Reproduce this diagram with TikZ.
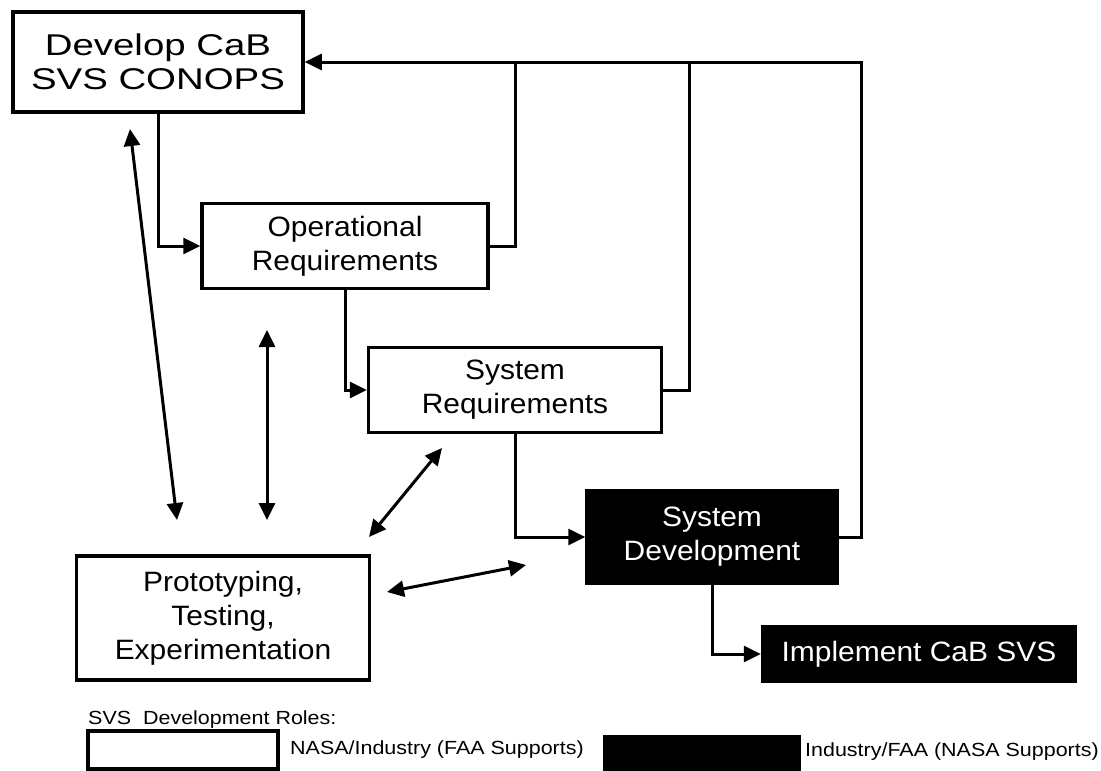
\documentclass[tikz,border=0pt]{standalone}
\usepackage{fontspec}
\setmainfont{Liberation Sans}
\newfontfamily\bigf[FakeStretch=1.28]{Liberation Sans}
\newfontfamily\midf[FakeStretch=1.07]{Liberation Sans}
\newfontfamily\smallf[FakeStretch=1.13]{Liberation Sans}
\usetikzlibrary{arrows.meta}
\begin{document}
\begin{tikzpicture}[x=1pt,y=-1pt,
  box/.style={draw=black, line width=3.5pt, inner sep=0pt, align=center,
    font=\midf\fontsize{28}{34}\selectfont},
  wbox/.style={box, fill=white},
  bbox/.style={box, fill=black, text=white},
  conn/.style={line width=3pt},
  arr/.style={conn, -{Triangle[length=17pt,width=16pt]}},
  darr/.style={conn, {Triangle[length=17pt,width=16pt]}-{Triangle[length=17pt,width=16pt]}},
  legtext/.style={font=\smallf\fontsize{19}{23}\selectfont, anchor=west, inner sep=0pt}]
\useasboundingbox (0,0) rectangle (1101,771);

% main boxes
\node[wbox, minimum width=290pt, minimum height=100pt,
      font=\bigf\fontsize{30}{34}\selectfont] (dev) at (158,62) {Develop CaB\\SVS CONOPS};
\node[wbox, minimum width=286pt, minimum height=85pt] (op) at (345,246) {Operational\\Requirements};
\node[wbox, minimum width=293pt, minimum height=85pt] (sysreq) at (515,390) {System\\Requirements};
\node[bbox, minimum width=250pt, minimum height=92pt] (sysdev) at (712,537) {System\\Development};
\node[bbox, minimum width=313pt, minimum height=54pt] (impl) at (919,654) {Implement CaB SVS};
\node[wbox, minimum width=293pt, minimum height=124pt] (proto) at (223,618) {Prototyping,\\Testing,\\Experimentation};

% legend
\node[legtext] (roles) at (88,720) {SVS\ \ Development Roles:};
\node[wbox, minimum width=190pt, minimum height=38pt] (legw) at (183,750) {};
\node[legtext] (legwt) at (290,750) {NASA/Industry (FAA Supports)};
\node[bbox, minimum width=195pt, minimum height=34pt] (legb) at (702,754) {};
\node[legtext] (legbt) at (805,752) {Industry/FAA (NASA Supports)};

% feedback lines
\coordinate (fbR) at (861,62);
\coordinate (fbO) at (515,62);
\coordinate (fbS) at (689,62);
\draw[arr] (sysdev.east) -| (fbR) -- (dev.east);
\draw[conn] (op.east) -| (fbO);
\draw[conn] (sysreq.east) -| (fbS);

% forward flow
\draw[arr] (dev.south) |- (op.west);
\draw[arr] (op.south) |- (sysreq.west);
\draw[arr] (sysreq.south) |- (sysdev.west);
\draw[arr] (sysdev.south) |- (impl.west);

% double arrows
\coordinate (a1) at (130,129); \coordinate (a2) at (177,520);
\coordinate (b1) at (267,330); \coordinate (b2) at (267,520);
\coordinate (c1) at (442,448); \coordinate (c2) at (369,537);
\coordinate (d1) at (387,592); \coordinate (d2) at (526,565);
\draw[darr] (a1) -- (a2);
\draw[darr] (b1) -- (b2);
\draw[darr] (c1) -- (c2);
\draw[darr] (d1) -- (d2);
\end{tikzpicture}
\end{document}
